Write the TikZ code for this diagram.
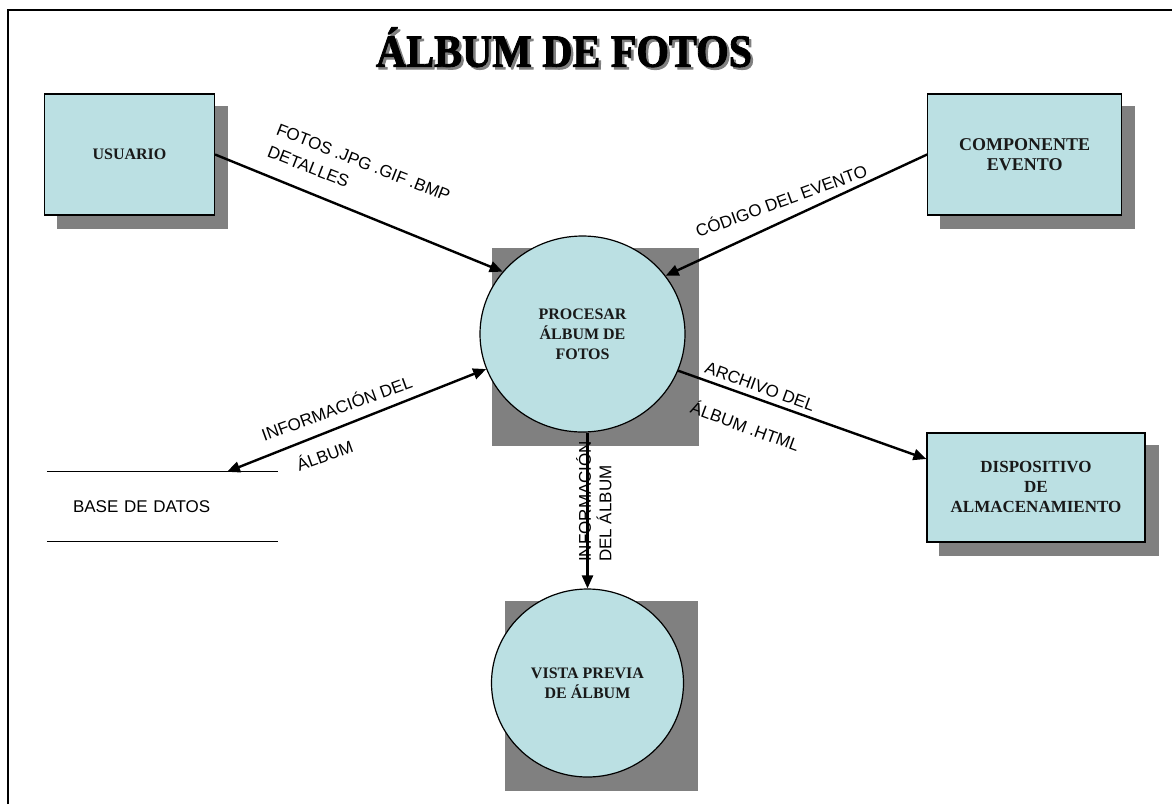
\documentclass[tikz,border=0pt]{standalone}
\usepackage{fontspec}
\setmainfont{Liberation Serif}
\newfontfamily\lsans{Liberation Sans}
\newfontfamily\heavyserif{Liberation Serif}[UprightFont=* Bold, FakeBold=2]
\usetikzlibrary{arrows.meta,calc,backgrounds,shapes.geometric}
\definecolor{boxfill}{RGB}{187,224,227}
\definecolor{shadowgray}{RGB}{128,128,128}
\definecolor{boxtext}{RGB}{25,25,25}
\tikzset{
  entbox/.style={draw, line width=1.2pt, fill=boxfill, inner sep=0pt, align=center,
    text=boxtext, font=\bfseries\fontsize{16}{20}\selectfont},
  procbub/.style={ellipse, draw, line width=1.2pt, fill=boxfill, inner sep=0pt, align=center,
    text=boxtext, font=\bfseries\fontsize{16}{20}\selectfont},
  flow/.style={line width=2.4pt, -{Triangle[length=13pt,width=11pt]}},
  dflow/.style={line width=2.4pt, {Triangle[length=13pt,width=11pt]}-{Triangle[length=13pt,width=11pt]}},
  lbl/.style={font=\lsans\fontsize{17}{24}\selectfont, inner sep=0pt, align=left},
  shadowfill/.style={fill=shadowgray},
  titlefont/.style={font=\heavyserif\fontsize{46}{50}\selectfont, inner sep=0pt, anchor=base, xscale=0.91}
}
\begin{document}
\begin{tikzpicture}[x=1pt,y=-1pt]
\useasboundingbox (0,0) rectangle (1172,804);
% frame
\draw[line width=2pt] (8,804) -- (8,10) -- (1172,10);
% title
\node[titlefont, text=shadowgray] (titleshadow) at (566.5,69.2) {ÁLBUM DE FOTOS};
\node[titlefont, text=black] (title) at (564,66.7) {ÁLBUM DE FOTOS};
% entities
\node[entbox, minimum width=170pt, minimum height=121pt] (usuario) at (129.5,154.5) {USUARIO};
\node[entbox, minimum width=194pt, minimum height=121pt, font=\bfseries\fontsize{18}{20}\selectfont] (comp) at (1024.7,154.5) {COMPONENTE\\EVENTO};
\node[entbox, minimum width=218pt, minimum height=109pt, font=\bfseries\fontsize{17}{20}\selectfont] (disp) at (1036,487.4) {DISPOSITIVO\\DE\\ALMACENAMIENTO};
% processes
\node[procbub, minimum width=205pt, minimum height=196pt] (proc) at (582.5,334) {PROCESAR\\ÁLBUM DE\\FOTOS};
\node[procbub, minimum width=192pt, minimum height=188pt] (vista) at (587.5,683) {VISTA PREVIA\\DE ÁLBUM};
% data store
\node[font=\lsans\fontsize{17}{20}\selectfont, inner xsep=26pt, inner ysep=0pt, text width=179pt,
  align=left, minimum height=69pt] (base) at (162.5,506.5) {BASE DE DATOS};
\draw[line width=1.3pt] (base.north west) -- (base.north east);
\draw[line width=1.3pt] (base.south west) -- (base.south east);
% shadows
\begin{scope}[on background layer]
  \fill[shadowfill] ($(usuario.south west)+(13pt,-13pt)$) rectangle ($(usuario.north east)+(13pt,-13pt)$);
  \fill[shadowfill] ($(comp.south west)+(13pt,-13pt)$) rectangle ($(comp.north east)+(13pt,-13pt)$);
  \fill[shadowfill] ($(disp.south west)+(13pt,-13pt)$) rectangle ($(disp.north east)+(13pt,-13pt)$);
  \fill[shadowfill] ($(proc.west |- proc.north)+(13pt,-13pt)$) rectangle ($(proc.east |- proc.south)+(13pt,-13pt)$);
  \fill[shadowfill] ($(vista.west |- vista.north)+(14pt,-13pt)$) rectangle ($(vista.east |- vista.south)+(14pt,-13pt)$);
\end{scope}
% flows
\draw[flow] (usuario.east) -- (proc.142.5);
\draw[flow] (comp.west) -- (proc.35.8);
\draw[dflow] (proc.200.3) -- ([xshift=64.5pt]base.north);
\draw[flow] (proc.339.7) -- ([yshift=28.4pt]disp.west);
\draw[flow] (vista.north |- proc.south) -- (vista.north);
% labels
\node[lbl, rotate=-21.5] (l1) at (359,173.7) {FOTOS .JPG .GIF .BMP\\DETALLES};
\node[lbl, rotate=20] (l2) at (781,200) {CÓDIGO DEL EVENTO};
\node[lbl, rotate=20] (l3) at (336.5,407.5) {INFORMACIÓN DEL};
\node[lbl, rotate=20] (l4) at (324.5,455) {ÁLBUM};
\node[lbl, rotate=-20] (l5) at (760,386.5) {ARCHIVO DEL};
\node[lbl, rotate=-20] (l6) at (745.5,425.5) {ÁLBUM .HTML};
\node[lbl, rotate=90, anchor=west] (l7) at (583.5,562) {INFORMACIÓN};
\node[lbl, rotate=90, anchor=west] (l8) at (604,562) {DEL~ÁLBUM};
\end{tikzpicture}
\end{document}
